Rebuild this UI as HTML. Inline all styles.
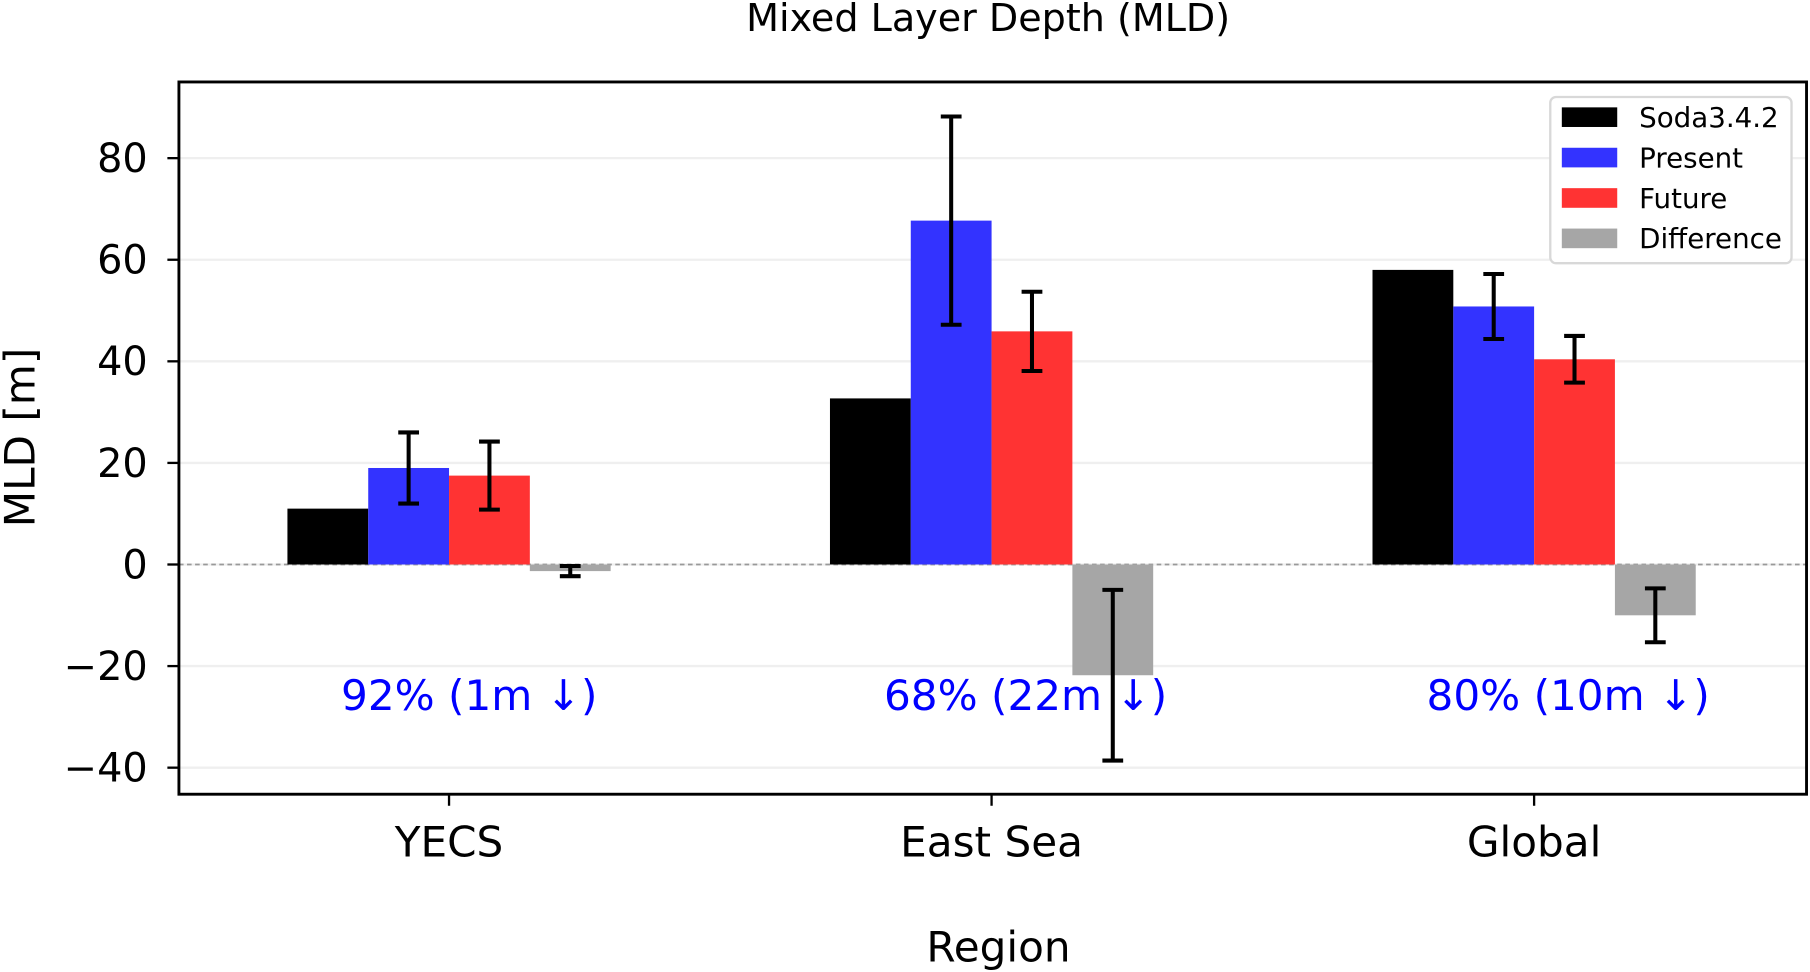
<!DOCTYPE html>
<html><head><meta charset="utf-8"><style>
html,body{margin:0;padding:0;background:#fff;}
svg{display:block;font-family:"DejaVu Sans","Liberation Sans",sans-serif;}
</style></head><body>
<svg id="chart" width="1810" height="972" viewBox="0 0 1568 842" preserveAspectRatio="none" xmlns="http://www.w3.org/2000/svg">
<g id="plot"></g>
</svg>
<script>
const categories = ["YECS", "East Sea", "Global"];
const seriesNames = ["Soda3.4.2", "Present", "Future", "Difference"];
const seriesColors = ["#000000", "#3333ff", "#ff3333", "#a6a6a6"];
const sodaValues = [11, 32.7, 58];
const presentValues = [19, 67.7, 50.8];
const futureValues = [17.5, 45.9, 40.4];
const diffValues = [-1.3, -21.8, -10];
const presentErr = [7, 20.5, 6.4];
const futureErr = [6.7, 7.8, 4.6];
const diffErr = [1, 16.8, 5.3];
const yTicks = [-40, -20, 0, 20, 40, 60, 80];
const annotations = ["92% (1m \u2193)", "68% (22m \u2193)", "80% (10m \u2193)"];

const NS = "http://www.w3.org/2000/svg";
const g = document.getElementById("plot");
const L = 155, R = 1565, T = 71, B = 688;
function yScale(v){ return 489 - v * 4.4; }
function xScale(i){ return 389 + i * 470; }
const barW = 70;
const annOffset = [17.5, 29.5, 29.5];
function mk(tag, attrs, parent){ const e = document.createElementNS(NS, tag); for (const k in attrs) e.setAttribute(k, attrs[k]); (parent||g).appendChild(e); return e; }

yTicks.forEach(t => {
  const ln = mk("line", {x1:L, x2:R, y1:yScale(t), y2:yScale(t), stroke:"#efefef", "stroke-width":2});
  
  
});
const zl = mk("line", {x1:L, x2:R, y1:yScale(0), y2:yScale(0), stroke:"#999", "stroke-width":1.5, "stroke-dasharray":"4,3"});



const allSeries = [sodaValues, presentValues, futureValues, diffValues];
const allErr = [null, presentErr, futureErr, diffErr];
categories.forEach((c, i) => {
  allSeries.forEach((vals, s) => {
    const x0 = xScale(i) - 2 * barW + s * barW;
    const v = vals[i];
    const r = mk("rect", {x:x0, y:Math.min(yScale(v), yScale(0)), width:barW, height:Math.abs(yScale(v) - yScale(0)), fill:seriesColors[s]});
    
    
    if (allErr[s]) {
      const cx = x0 + barW / 2, e = allErr[s][i];
      const eg = mk("g", {stroke:"#000", "stroke-width":3.5});
      
      
      mk("line", {x1:cx, x2:cx, y1:yScale(v + e), y2:yScale(v - e)}, eg);
      mk("line", {x1:cx - 9, x2:cx + 9, y1:yScale(v + e), y2:yScale(v + e)}, eg);
      mk("line", {x1:cx - 9, x2:cx + 9, y1:yScale(v - e), y2:yScale(v - e)}, eg);
    }
  });
  const an = mk("text", {x:xScale(i) + annOffset[i], y:615, "text-anchor":"middle", "font-size":36.5, fill:"#0000ff"});
  an.textContent = annotations[i];
  
  
  const tk = mk("line", {x1:xScale(i), x2:xScale(i), y1:B, y2:B + 10, stroke:"#000", "stroke-width":2});
  
  
  const xl = mk("text", {x:xScale(i), y:742, "text-anchor":"middle", "font-size":36.5, fill:"#000"});
  xl.textContent = c;
  
  
});

yTicks.forEach(t => {
  const tk = mk("line", {x1:L - 10, x2:L, y1:yScale(t), y2:yScale(t), stroke:"#000", "stroke-width":2});
  
  
  const tl = mk("text", {x:L - 27, y:yScale(t) + 12, "text-anchor":"end", "font-size":34.5, fill:"#000"});
  tl.textContent = t < 0 ? "\u2212" + Math.abs(t) : String(t);
  
  
});

const frame = mk("rect", {x:L, y:T, width:R - L, height:B - T, fill:"none", stroke:"#000", "stroke-width":2.5});



const title = mk("text", {x:856, y:27, "text-anchor":"middle", "font-size":33, fill:"#000"});
title.textContent = "Mixed Layer Depth (MLD)";



const xt = mk("text", {x:865, y:833, "text-anchor":"middle", "font-size":36.5, fill:"#000"});
xt.textContent = "Region";



const yt = mk("text", {x:0, y:0, "text-anchor":"middle", "font-size":36.5, fill:"#000", transform:"translate(30,379) rotate(-90)"});
yt.textContent = "MLD [m]";



const lg = mk("g", {});


mk("rect", {x:1343, y:84, width:209, height:144, rx:5, fill:"#fff", stroke:"#d8d8d8", "stroke-width":2}, lg);
seriesNames.forEach((n, s) => {
  const y = 101 + s * 35;
  const sw = mk("rect", {x:1353, y:y - 8, width:48, height:17, fill:seriesColors[s]}, lg);
  
  
  const lt = mk("text", {x:1420, y:y + 9, "font-size":24, fill:"#000"}, lg);
  lt.textContent = n;
  
  
});
</script>
</body></html>
